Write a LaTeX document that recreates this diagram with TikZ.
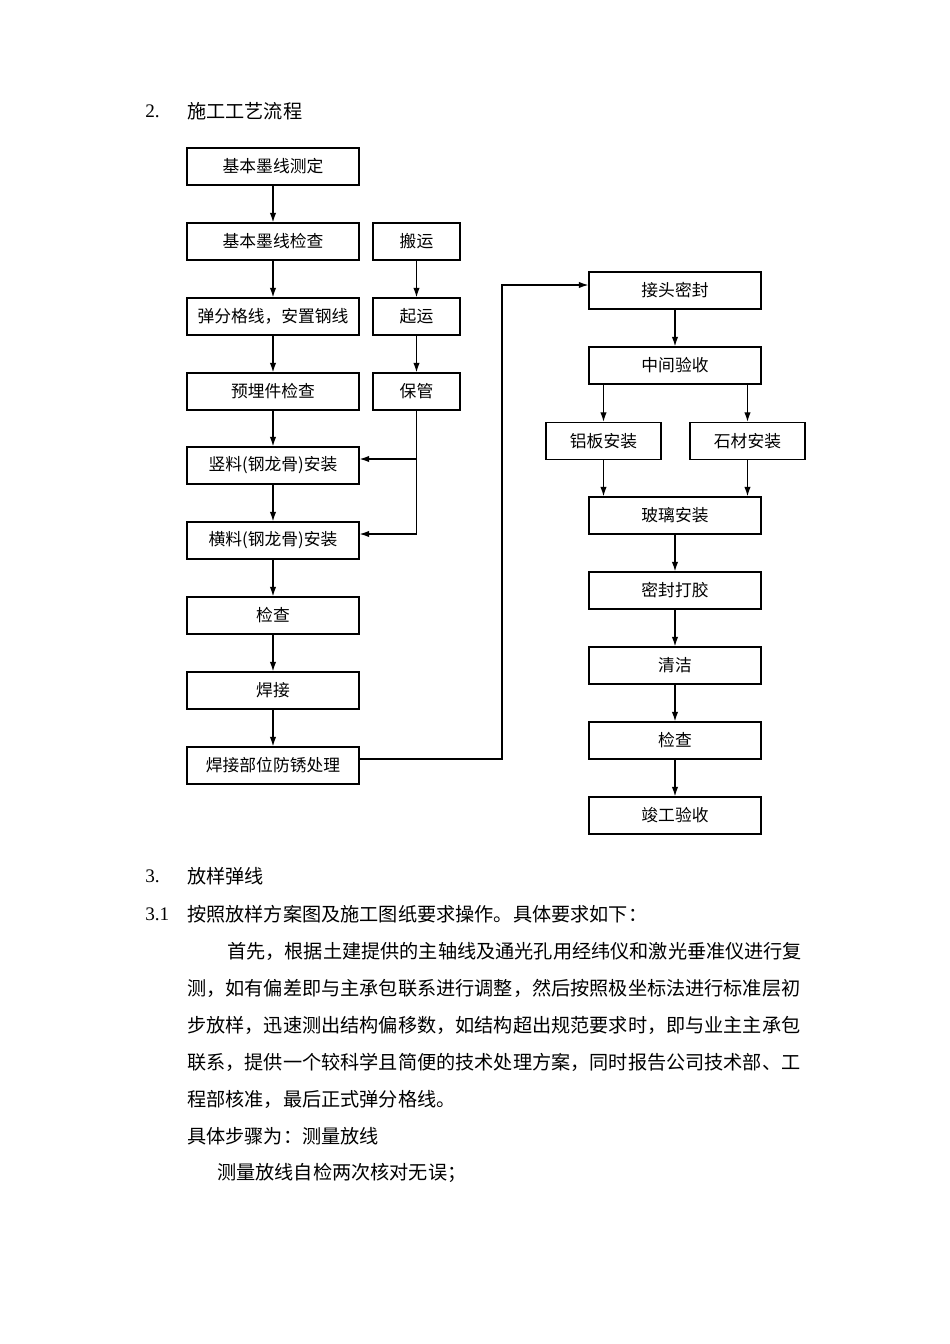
\documentclass[tikz,border=0pt]{standalone}
\usepackage{fontspec}
\setmainfont{Liberation Serif}
\newfontfamily\cjk{Noto Sans CJK SC}
\usetikzlibrary{arrows.meta,positioning}
\tikzset{
  stepbox/.style={draw, line width=0.7pt, minimum width=107.7pt, minimum height=23.2pt,
    inner sep=0pt, font=\cjk\fontsize{10.5}{12}\selectfont},
  smallbox/.style={stepbox, minimum width=54.5pt},
  sidebox/.style={stepbox, minimum width=72pt},
  flow/.style={line width=0.8pt, -{Latex[length=6pt,width=4pt]}},
  plainline/.style={line width=0.8pt},
  bodytext/.style={anchor=west, inner sep=0pt, font=\cjk\fontsize{12}{14}\selectfont}
}
\begin{document}
\begin{tikzpicture}[x=0.6263pt, y=-0.6263pt]
\useasboundingbox (0,0) rectangle (950,1344);
\node[anchor=west, inner sep=0pt, font=\fontsize{12}{14}\selectfont] (n2) at (145,111) {2.};
\node[bodytext] (t2) at (187,111) {施工工艺流程};
% left column
\node[stepbox] (jc) at (273,166.5) {基本墨线测定};
\node[stepbox] (jj) at (273,241.5) {基本墨线检查};
\node[stepbox] (tf) at (273,316.5) {弹分格线，安置钢线};
\node[stepbox] (ym) at (273,391.5) {预埋件检查};
\node[stepbox] (sl) at (273,465.5) {竖料(钢龙骨)安装};
\node[stepbox] (hl) at (273,540.5) {横料(钢龙骨)安装};
\node[stepbox] (jca) at (273,615.5) {检查};
\node[stepbox] (hj) at (273,690.5) {焊接};
\node[stepbox] (fx) at (273,765.5) {焊接部位防锈处理};
% middle column
\node[smallbox] (by) at (416.5,241.5) {搬运};
\node[smallbox] (qy) at (416.5,316.5) {起运};
\node[smallbox] (bg) at (416.5,391.5) {保管};
% right column
\node[stepbox] (jt) at (675,290.5) {接头密封};
\node[stepbox] (zy) at (675,365.5) {中间验收};
\node[sidebox] (lb) at (603.5,441) {铝板安装};
\node[sidebox] (sc) at (747.5,441) {石材安装};
\node[stepbox] (bl) at (675,515.5) {玻璃安装};
\node[stepbox] (md) at (675,590.5) {密封打胶};
\node[stepbox] (qj) at (675,665.5) {清洁};
\node[stepbox] (jcb) at (675,740.5) {检查};
\node[stepbox] (jg) at (675,815.5) {竣工验收};

\foreach \a/\b in {jc/jj, jj/tf, tf/ym, ym/sl, sl/hl, hl/jca, jca/hj, hj/fx,
                   by/qy, qy/bg, jt/zy, bl/md, md/qj, qj/jcb, jcb/jg}
  \draw[flow] (\a) -- (\b);
\draw[flow] (zy.south -| lb.north) -- (lb.north);
\draw[flow] (zy.south -| sc.north) -- (sc.north);
\draw[flow] (lb.south) -- (lb.south |- bl.north);
\draw[flow] (sc.south) -- (sc.south |- bl.north);

\coordinate (b1) at (416.5,459);
\coordinate (b2) at (416.5,534);
\draw[plainline] (bg.south) -- (b2);
\draw[flow] (b1) -- (b1 -| sl.east);
\draw[flow] (b2) -- (b2 -| hl.east);

\coordinate (r1) at (502,759);
\coordinate (r2) at (502,285);
\draw[flow] (fx.east |- r1) -- (r1) -- (r2) -- (r2 -| jt.west);

% text below
\node[anchor=west, inner sep=0pt, font=\fontsize{12}{14}\selectfont] (n3) at (145,876) {3.};
\node[bodytext] (t3) at (187,876) {放样弹线};
\node[anchor=west, inner sep=0pt, font=\fontsize{12}{14}\selectfont] (n31) at (145,914) {3.1};
\node[bodytext] (t31) at (187,914) {按照放样方案图及施工图纸要求操作。具体要求如下：};
\foreach \t/\x/\y in {首先，根据土建提供的主轴线及通光孔用经纬仪和激光垂准仪进行复/227/951,
  测，如有偏差即与主承包联系进行调整，然后按照极坐标法进行标准层初/187/988,
  步放样，迅速测出结构偏移数，如结构超出规范要求时，即与业主主承包/187/1025,
  联系，提供一个较科学且简便的技术处理方案，同时报告公司技术部、工/187/1062,
  程部核准，最后正式弹分格线。/187/1099,
  具体步骤为：测量放线/187/1136,
  测量放线自检两次核对无误；/217/1173}
  \node[bodytext] at (\x,\y) {\t};
\end{tikzpicture}
\end{document}
